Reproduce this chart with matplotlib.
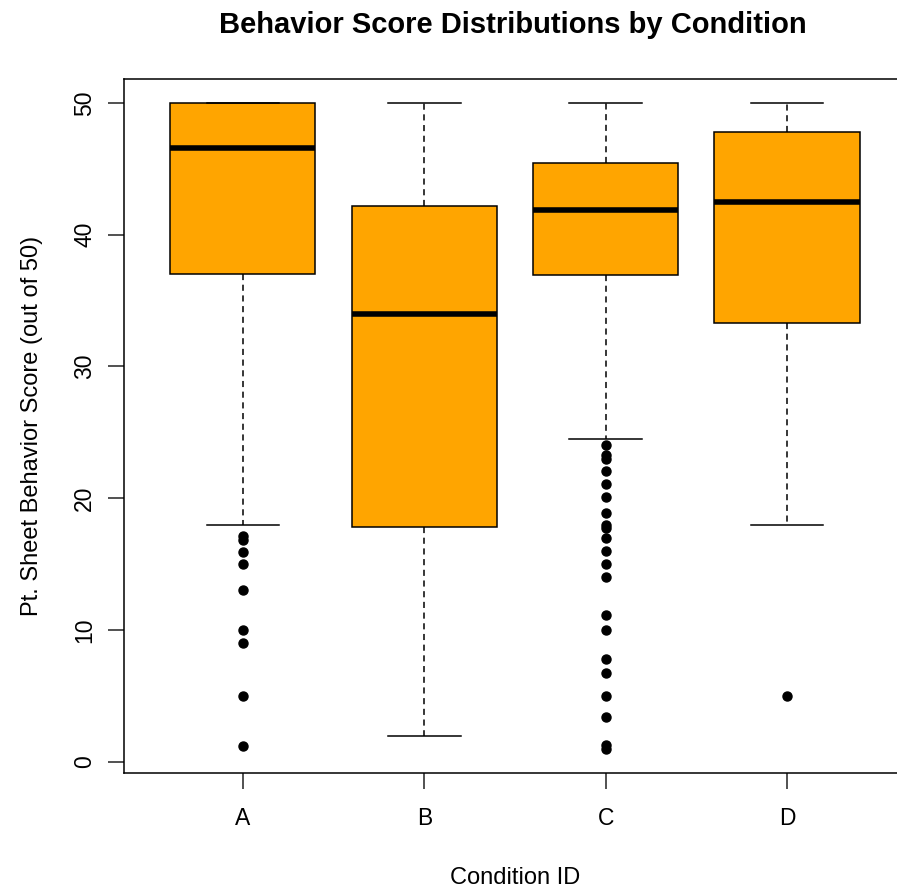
import numpy as np
import matplotlib
matplotlib.use("Agg")
import matplotlib.pyplot as plt

plt.rcParams['font.family'] = ['Liberation Sans', 'DejaVu Sans']

# Condition labels and five-number summaries
conditions = ['A', 'B', 'C', 'D']
whisker_low = [18.0, 1.95, 24.5, 18.0]
q1 = [37.0, 17.8, 36.9, 33.3]
medians = [46.6, 34.0, 41.9, 42.5]
q3 = [50.0, 42.2, 45.4, 47.8]
whisker_high = [50.0, 50.0, 50.0, 50.0]

# outliers (points beyond the whiskers)
outliers_a = [17.1, 16.8, 15.9, 15.0, 13.0, 10.0, 9.0, 5.0, 1.2]
outliers_b = []
outliers_c = [24.0, 23.3, 23.0, 22.1, 21.1, 20.1, 18.9, 18.0, 17.7, 17.0,
              16.0, 15.0, 14.0, 11.1, 10.0, 7.8, 6.7, 5.0, 3.4, 1.3, 1.0]
outliers_d = [5.0]
outliers = [outliers_a, outliers_b, outliers_c, outliers_d]

stats = []
for i in range(len(conditions)):
    stats.append({'label': conditions[i], 'whislo': whisker_low[i], 'q1': q1[i],
                  'med': medians[i], 'q3': q3[i], 'whishi': whisker_high[i],
                  'fliers': outliers[i]})

fig = plt.figure(figsize=(8.97, 8.88), dpi=100)
# axes runs a bit past the right edge, like the cropped original
ax = fig.add_axes([0.1382, 0.1298, 0.8718, 0.7812])

ax.bxp(stats, positions=[1, 2, 3, 4], widths=0.8, patch_artist=True,
       boxprops=dict(facecolor='#FFA500', edgecolor='black', linewidth=1.1),
       medianprops=dict(color='black', linewidth=4, solid_capstyle='butt'),
       whiskerprops=dict(color='black', linewidth=1.1, linestyle=(0, (4, 3))),
       capprops=dict(color='black', linewidth=1.1),
       capwidths=0.4,
       flierprops=dict(marker='o', markerfacecolor='black', markeredgecolor='black',
                       markersize=6.5, linestyle='none'))

ax.set_xlim(0.344, 4.656)
ax.set_ylim(-0.83, 51.8)
ax.set_yticks([0, 10, 20, 30, 40, 50])
ax.set_xticks([1, 2, 3, 4])
ax.set_xticklabels(conditions)

for s in ax.spines.values():
    s.set_linewidth(1.1)
ax.tick_params(axis='both', length=11.5, width=1.1, labelsize=16.5, color='#222222')
ax.tick_params(axis='x', pad=13.5)
ax.tick_params(axis='y', pad=8.5)
for lab in ax.get_yticklabels():
    lab.set_rotation(90)
    lab.set_va('center')

ax.set_xlabel('Condition ID', fontsize=17)
ax.set_ylabel('Pt. Sheet Behavior Score (out of 50)', fontsize=17)
ax.xaxis.set_label_coords(0.5, -0.136)
ax.yaxis.set_label_coords(-0.104, 0.5)
fig.text(0.572, 0.988, 'Behavior Score Distributions by Condition',
         ha='center', va='top', fontsize=21, fontweight='bold')

fig.savefig('out.png', dpi=100)
